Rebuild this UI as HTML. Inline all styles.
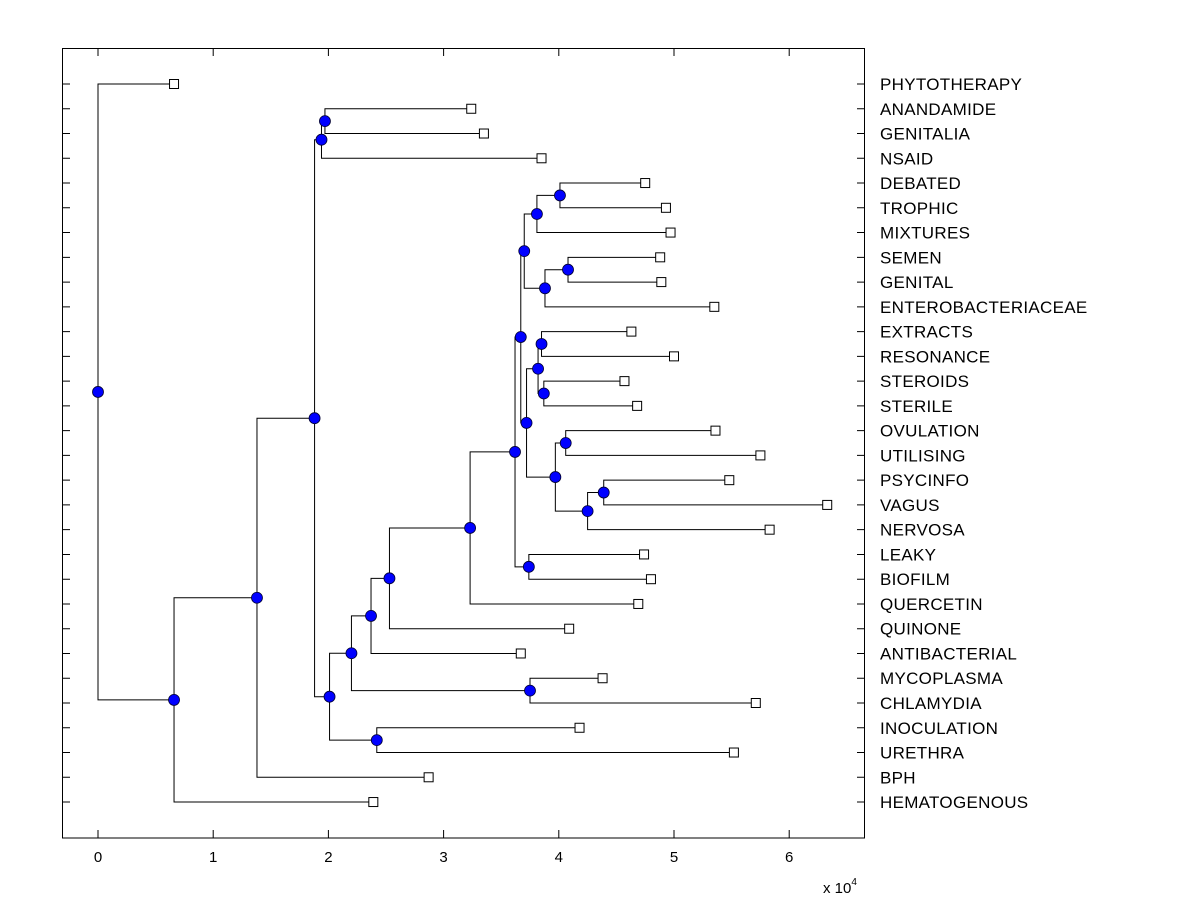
<!DOCTYPE html>
<html><head><meta charset="utf-8"><style>
html,body{margin:0;padding:0;background:#fff;}
svg{display:block;font-family:"Liberation Sans",Arial,sans-serif;}
</style></head><body>
<svg id="chart" width="1200" height="900" viewBox="0 0 1200 900">
<rect x="0" y="0" width="1200" height="900" fill="#fff"/>
<g id="ticks"></g>
<g id="tree"></g>
<g id="nodes"></g>
<g id="labels"></g>
<rect x="62.5" y="48.5" width="802" height="789.5" fill="none" stroke="#000" stroke-width="1"/>
<text x="823" y="893" font-size="15">x 10<tspan dy="-8" font-size="10">4</tspan></text>
</svg>
<script>
const leafNames = ["PHYTOTHERAPY","ANANDAMIDE","GENITALIA","NSAID","DEBATED","TROPHIC","MIXTURES","SEMEN","GENITAL","ENTEROBACTERIACEAE","EXTRACTS","RESONANCE","STEROIDS","STERILE","OVULATION","UTILISING","PSYCINFO","VAGUS","NERVOSA","LEAKY","BIOFILM","QUERCETIN","QUINONE","ANTIBACTERIAL","MYCOPLASMA","CHLAMYDIA","INOCULATION","URETHRA","BPH","HEMATOGENOUS"];
const leafValues = [0.66,3.24,3.35,3.85,4.75,4.93,4.97,4.88,4.89,5.35,4.63,5.0,4.57,4.68,5.36,5.75,5.48,6.33,5.83,4.74,4.80,4.69,4.09,3.67,4.38,5.71,4.18,5.52,2.87,2.39];
// internal node k joins mergeChildA[k] and mergeChildB[k] at mergeHeights[k]; numbers = leaves, "n#" = nodes
const mergeChildA = [1,"n0",4,"n2",7,"n4","n3",10,12,"n7",14,16,"n11","n10","n9","n6",19,"n15","n17","n18","n19",24,"n20",26,"n22","n1","n25","n26",0];
const mergeChildB = [2,3,5,6,8,9,"n5",11,13,"n8",15,17,18,"n12","n13","n14",20,"n16",21,22,23,25,"n21",27,"n23","n24",28,29,"n27"];
const mergeHeights = [1.97,1.94,4.01,3.81,4.08,3.88,3.70,3.85,3.87,3.82,4.06,4.39,4.25,3.97,3.72,3.67,3.74,3.62,3.23,2.53,2.37,3.75,2.20,2.42,2.01,1.88,1.38,0.66,0.0];
const xTicks = [0,1,2,3,4,5,6];

const NS="http://www.w3.org/2000/svg";
const X0=98, XS=115.2, Y0=84, YS=24.76;
function xs(v){return X0+v*XS;}
function ys(i){return Y0+i*YS;}
function mk(tag,attrs,parent){const e=document.createElementNS(NS,tag);for(const k in attrs)e.setAttribute(k,attrs[k]);parent.appendChild(e);return e;}
const gT=document.getElementById('ticks'),gTree=document.getElementById('tree'),gN=document.getElementById('nodes'),gL=document.getElementById('labels');

const nodePos=[];
function layout(ref){
  if(typeof ref==="number"){return {x:xs(leafValues[ref]),y:ys(ref)};}
  const k=parseInt(ref.slice(1));
  const a=layout(mergeChildA[k]),b=layout(mergeChildB[k]);
  const x=xs(mergeHeights[k]);const y=(a.y+b.y)/2;
  const p=mk('path',{d:`M${a.x},${a.y}H${x}V${b.y}H${b.x}`,fill:'none',stroke:'#000','stroke-width':1},gTree);
  
  
  nodePos.push({k:k,x:x,y:y});
  return {x:x,y:y};
}
layout("n"+(mergeHeights.length-1));
nodePos.forEach(n=>{
  const c=mk('circle',{cx:n.x,cy:n.y,r:5.5,fill:'#0000ff',stroke:'#000033','stroke-width':0.8},gN);
  
  
});
leafNames.forEach((nm,i)=>{
  const r=mk('rect',{x:xs(leafValues[i])-4.5,y:ys(i)-4.5,width:9,height:9,fill:'#fff',stroke:'#000','stroke-width':1},gN);
  
  
  const t=mk('text',{x:880,y:ys(i)+6,'font-size':17,'letter-spacing':0.3},gL);t.textContent=nm;
  
  
  const tl=mk('path',{d:`M62,${ys(i)}h8M865,${ys(i)}h-8`,stroke:'#000','stroke-width':1},gT);
  
  
});
xTicks.forEach(v=>{
  const x=xs(v);
  const tl=mk('path',{d:`M${x},838v-8M${x},48v8`,stroke:'#000','stroke-width':1},gT);
  
  
  const t=mk('text',{x:x,y:862,'font-size':15,'text-anchor':'middle'},gL);t.textContent=v;
  
  
});
</script>
</body></html>
